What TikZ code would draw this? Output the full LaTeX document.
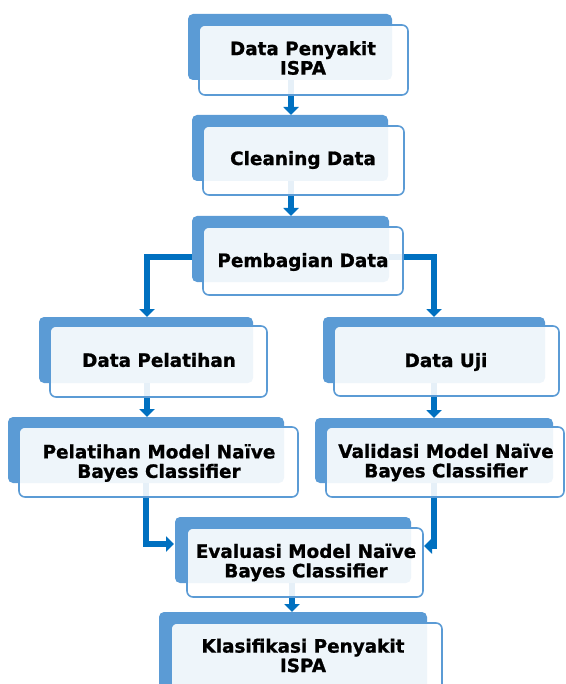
\documentclass[tikz,border=0pt]{standalone}
\usepackage{fontspec}
\setmainfont{DejaVu Sans}[BoldFont={DejaVu Sans Bold}, BoldFeatures={FakeBold=1}]
\usetikzlibrary{arrows.meta}

\definecolor{backblue}{HTML}{5B9BD5}
\definecolor{edgeblue}{HTML}{5B9BD5}
\definecolor{flowblue}{HTML}{0070C0}

\tikzset{
  x=1pt, y=-1pt,
  backbox/.style={fill=backblue, draw=none, rounded corners=5pt},
  frontbox/.style={fill=white, fill opacity=0.9, draw=edgeblue, line width=1.6pt, rounded corners=6pt},
  steplabel/.style={align=center, inner sep=0pt,
    font=\fontsize{18.4}{19.5}\selectfont\bfseries, text=black},
  flow/.style={draw=flowblue, line width=5.5pt,
    -{Triangle[width=15pt,length=8pt]}},
}

\begin{document}
\begin{tikzpicture}
\useasboundingbox (0,0) rectangle (565,684);
\clip (0,0) rectangle (565,684);

% back panels of the steps
\path[backbox] (188,14)  rectangle (392,80)  coordinate[pos=.5] (b1);
\path[backbox] (192,115) rectangle (388,181) coordinate[pos=.5] (b2);
\path[backbox] (192,216) rectangle (389,282) coordinate[pos=.5] (b3);
\path[backbox] (39,317)  rectangle (253,383) coordinate[pos=.5] (b4);
\path[backbox] (323,317) rectangle (545,383) coordinate[pos=.5] (b5);
\path[backbox] (8,417)   rectangle (284,483) coordinate[pos=.5] (b6);
\path[backbox] (315,418) rectangle (553,483) coordinate[pos=.5] (b7);
\path[backbox] (175,517) rectangle (411,583) coordinate[pos=.5] (b8);
\path[backbox] (159,612) rectangle (427,700) coordinate[pos=.5] (b9);

% anchor points for the connectors
\coordinate (s1) at (291,80);   \coordinate (t2) at (291,115);
\coordinate (s2) at (291,181);  \coordinate (t3) at (291,216);
\coordinate (s3l) at (192,257); \coordinate (t4) at (147,317);
\coordinate (s3r) at (389,257); \coordinate (t5) at (434,317);
\coordinate (s4) at (147,383);  \coordinate (t6) at (147,417);
\coordinate (s5) at (434,383);  \coordinate (t7) at (434,418);
\coordinate (s6) at (146,483);  \coordinate (t8l) at (174,544);
\coordinate (s7) at (434,483);  \coordinate (t8r) at (424,546);
\coordinate (s8) at (292,583);  \coordinate (t9) at (292,612);

% connectors
\draw[flow] (s1) -- (t2);
\draw[flow] (s2) -- (t3);
\draw[flow] (s3l) -| (t4);
\draw[flow] (s3r) -| (t5);
\draw[flow] (s4) -- (t6);
\draw[flow] (s5) -- (t7);
\draw[flow] (s6) |- (t8l);
\draw[flow] (s7) |- (t8r);
\draw[flow] (s8) -- (t9);

% front panels
\draw[frontbox] (199,25)  rectangle (408,95);
\draw[frontbox] (203,126) rectangle (404,195);
\draw[frontbox] (203,227) rectangle (403,295);
\draw[frontbox] (50,326)  rectangle (267,397);
\draw[frontbox] (334,326) rectangle (559,396);
\draw[frontbox] (19,427)  rectangle (298,497);
\draw[frontbox] (326,427) rectangle (564,497);
\draw[frontbox] (187,528) rectangle (423,597);
\draw[frontbox] (171,623) rectangle (442,710);

% labels
\node[steplabel] (n1) at (303,58)    {Data Penyakit\\ISPA};
\node[steplabel] (n2) at (303,160)   {Cleaning Data};
\node[steplabel] (n3) at (303,262)   {Pembagian Data};
\node[steplabel] (n4) at (159,360)   {Data Pelatihan};
\node[steplabel] (n5) at (446,362)   {Data Uji};
\node[steplabel] (n6) at (159,463)   {Pelatihan Model Naïve\\Bayes Classifier};
\node[steplabel] (n7) at (446,462.5) {Validasi Model Naïve\\Bayes Classifier};
\node[steplabel] (n8) at (306,562.5) {Evaluasi Model Naïve\\Bayes Classifier};
\node[steplabel] (n9) at (303,655.5) {Klasifikasi Penyakit\\ISPA};
\end{tikzpicture}
\end{document}
